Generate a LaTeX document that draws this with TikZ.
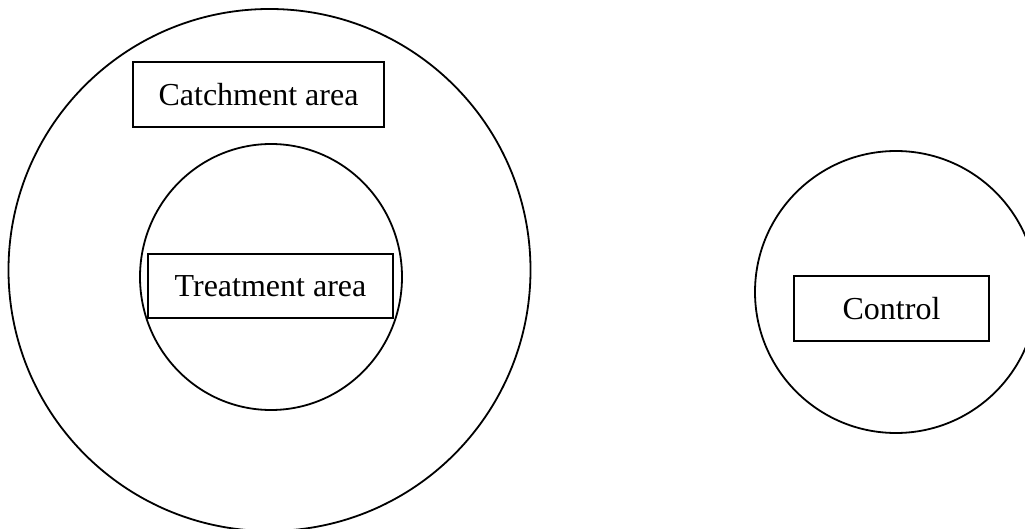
\documentclass[tikz,border=0pt]{standalone}
\usepackage{fontspec}
\setmainfont{Liberation Serif}
\usetikzlibrary{shapes.geometric}
\begin{document}
\begin{tikzpicture}[x=1pt,y=-1pt,
  ring/.style={draw=black,line width=1.8pt},
  labelbox/.style={draw=black,line width=1.8pt,fill=none,inner sep=0pt,font=\fontsize{32}{38}\selectfont}]
\useasboundingbox (0,0) rectangle (1025,529);
\clip (0,0) rectangle (1025,529);
\node[ring,circle,minimum size=522pt,inner sep=0pt] (catch) at (269.5,270) {};
\node[ring,ellipse,minimum width=262pt,minimum height=266pt,inner sep=0pt] (treat) at (271,277) {};
\node[ring,circle,minimum size=282pt,inner sep=0pt] (ctrl) at (896,292) {};
\node[labelbox,minimum width=251pt,minimum height=65pt] (catchlbl) at (258.5,94.5) {Catchment area};
\node[labelbox,minimum width=245pt,minimum height=64pt] (treatlbl) at (270.5,286) {Treatment area};
\node[labelbox,minimum width=195pt,minimum height=65pt] (ctrllbl) at (891.5,308.5) {Control};
\end{tikzpicture}
\end{document}
